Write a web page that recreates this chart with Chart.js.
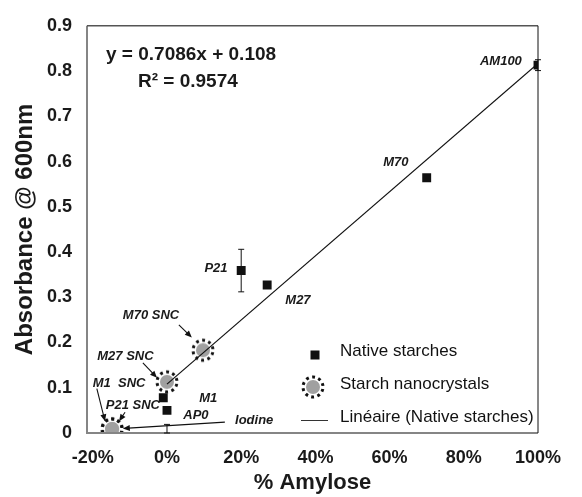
<!DOCTYPE html>
<html>
<head>
<meta charset="utf-8">
<script src="https://cdn.jsdelivr.net/npm/chart.js@4.4.1/dist/chart.umd.min.js"></script>
<style>
  html, body { margin: 0; padding: 0; background: #fff; }
  #wrap { width: 582px; height: 497px; }
</style>
</head>
<body>
<div id="wrap"><canvas id="chart" width="582" height="497"></canvas></div>
<script>
// Absorbance at 600nm against amylose content
const nativeNames = ['AM100', 'M70', 'P21', 'M27', 'M1', 'AP0'];
const nativeX = [1.0, 0.70, 0.20, 0.27, -0.01, 0.0];
const nativeY = [0.813, 0.564, 0.359, 0.327, 0.078, 0.050];
const nativeErr = [0.012, 0, 0.047, 0, 0, 0];

const sncNames = ['M70 SNC', 'M27 SNC', 'M1  SNC', 'P21 SNC'];
const sncX = [0.097, 0.0, -0.148, -0.148];
const sncY = [0.183, 0.113, 0.009, 0.009];

// iodine blank: only the error bar shows
const iodineX = [0];
const iodineY = [0.008];
const iodineErr = [0.011];

// linear fit of the native starches
const slope = 0.7086;
const intercept = 0.108;
const r2 = 0.9574;
const fitX = [0, 1.0];

const xTicks = [-0.2, 0, 0.2, 0.4, 0.6, 0.8, 1.0];
const yTicks = [0, 0.1, 0.2, 0.3, 0.4, 0.5, 0.6, 0.7, 0.8, 0.9];

// label text with its centre in data units
const labelText = ['AM100', 'M70', 'P21', 'M27', 'M70 SNC', 'M27 SNC', 'M1  SNC', 'P21 SNC', 'M1', 'AP0', 'Iodine'];
const labelX = [0.900, 0.617, 0.132, 0.353, -0.043, -0.112, -0.129, -0.092, 0.111, 0.078, 0.235];
const labelY = [0.822, 0.597, 0.364, 0.292, 0.259, 0.170, 0.109, 0.060, 0.076, 0.038, 0.028];

// callout arrows: tail -> head, data units
const arrowFrom = [[0.032, 0.239], [-0.065, 0.155], [-0.189, 0.098], [-0.113, 0.046], [0.156, 0.024]];
const arrowTo = [[0.067, 0.211], [-0.027, 0.122], [-0.167, 0.026], [-0.129, 0.026], [-0.119, 0.010]];

const FONT = '"Liberation Sans", Arial, sans-serif';
Chart.defaults.font.family = FONT;

function makeSncIcon() {
    const c = document.createElement('canvas');
    c.width = 26; c.height = 26;
    const g = c.getContext('2d');
    g.fillStyle = '#a0a0a0';
    g.beginPath(); g.arc(13, 13, 7, 0, Math.PI * 2); g.fill();
    const r = 10;
    const seg = 2 * Math.PI * r / 10;
    g.strokeStyle = '#111';
    g.lineWidth = 3;
    g.setLineDash([seg * 0.45, seg * 0.55]);
    g.beginPath(); g.arc(13, 13, r, 0.2, 0.2 + Math.PI * 2); g.stroke();
    return c;
}
const sncIcon = makeSncIcon();

function errorBar(ctx, px, yTop, yBot, cap) {
    ctx.beginPath();
    ctx.moveTo(px, yTop); ctx.lineTo(px, yBot);
    ctx.moveTo(px - cap, yTop); ctx.lineTo(px + cap, yTop);
    ctx.moveTo(px - cap, yBot); ctx.lineTo(px + cap, yBot);
    ctx.stroke();
}

function arrow(ctx, x1, y1, x2, y2) {
    const a = Math.atan2(y2 - y1, x2 - x1);
    const len = 7, half = 3;
    ctx.beginPath();
    ctx.moveTo(x1, y1);
    ctx.lineTo(x2 - Math.cos(a) * len * 0.8, y2 - Math.sin(a) * len * 0.8);
    ctx.stroke();
    ctx.beginPath();
    ctx.moveTo(x2, y2);
    ctx.lineTo(x2 - Math.cos(a) * len - Math.sin(a) * half, y2 - Math.sin(a) * len + Math.cos(a) * half);
    ctx.lineTo(x2 - Math.cos(a) * len + Math.sin(a) * half, y2 - Math.sin(a) * len - Math.cos(a) * half);
    ctx.closePath();
    ctx.fill();
}

const extras = {
    id: 'extras',
    afterDatasetsDraw(chart) {
        const { ctx, chartArea: a, scales: { x, y } } = chart;
        ctx.save();

        // frame
        ctx.lineWidth = 2;
        ctx.strokeStyle = '#858585';
        ctx.beginPath();
        ctx.moveTo(a.left, a.top); ctx.lineTo(a.left, a.bottom); ctx.lineTo(a.right, a.bottom);
        ctx.stroke();
        ctx.lineWidth = 1.5;
        ctx.strokeStyle = '#555';
        ctx.beginPath(); ctx.moveTo(a.left, a.top); ctx.lineTo(a.right, a.top); ctx.stroke();
        ctx.lineWidth = 1;
        ctx.strokeStyle = '#111';
        ctx.beginPath(); ctx.moveTo(a.right, a.top); ctx.lineTo(a.right, a.bottom); ctx.stroke();

        // error bars
        ctx.strokeStyle = '#111';
        ctx.lineWidth = 1;
        nativeX.forEach((v, i) => {
            if (!nativeErr[i]) return;
            errorBar(ctx, x.getPixelForValue(v), y.getPixelForValue(nativeY[i] + nativeErr[i]),
                y.getPixelForValue(nativeY[i] - nativeErr[i]), 3);
        });
        iodineX.forEach((v, i) => {
            const bot = Math.min(y.getPixelForValue(iodineY[i] - iodineErr[i]), a.bottom);
            errorBar(ctx, x.getPixelForValue(v), y.getPixelForValue(iodineY[i] + iodineErr[i]), bot, 3);
        });

        // callout arrows
        ctx.fillStyle = '#111';
        ctx.lineWidth = 1.1;
        arrowFrom.forEach((f, i) => {
            const t = arrowTo[i];
            arrow(ctx, x.getPixelForValue(f[0]), y.getPixelForValue(f[1]),
                x.getPixelForValue(t[0]), y.getPixelForValue(t[1]));
        });

        // point names
        ctx.font = 'italic bold 13px ' + FONT;
        ctx.fillStyle = '#1a1a1a';
        ctx.textAlign = 'center';
        ctx.textBaseline = 'middle';
        labelText.forEach((t, i) => {
            ctx.fillText(t, x.getPixelForValue(labelX[i]), y.getPixelForValue(labelY[i]));
        });

        // fit equation
        ctx.font = 'bold 19px ' + FONT;
        ctx.textAlign = 'left';
        ctx.textBaseline = 'alphabetic';
        ctx.fillText('y = ' + slope + 'x + ' + intercept, a.left + 19, a.top + 34);
        ctx.fillText('R\u00b2 = ' + r2, a.left + 51, a.top + 61);

        // legend
        const lx = 315;
        ctx.font = '17px ' + FONT;
        ctx.textBaseline = 'middle';
        ctx.fillStyle = '#111';
        ctx.fillRect(lx - 4.5, 350.5, 9, 9);
        ctx.fillText('Native starches', 340, 351);
        ctx.drawImage(sncIcon, lx - 15, 374);
        ctx.fillText('Starch nanocrystals', 340, 384);
        ctx.strokeStyle = '#333';
        ctx.lineWidth = 1;
        ctx.beginPath(); ctx.moveTo(301, 420.5); ctx.lineTo(328, 420.5); ctx.stroke();
        ctx.fillText('Lin\u00e9aire (Native starches)', 340, 417);

        ctx.restore();
    }
};

new Chart(document.getElementById('chart'), {
    type: 'scatter',
    data: {
        datasets: [
            {
                label: 'Lin\u00e9aire (Native starches)',
                type: 'line',
                data: fitX.map(v => ({ x: v, y: slope * v + intercept })),
                borderColor: '#111',
                borderWidth: 1.2,
                pointRadius: 0,
                fill: false,
                order: 0
            },
            {
                label: 'Native starches',
                data: nativeX.map((v, i) => ({ x: v, y: nativeY[i] })),
                pointStyle: 'rect',
                pointRadius: 6.3,
                backgroundColor: '#111',
                borderWidth: 0,
                order: 1
            },
            {
                label: 'Starch nanocrystals',
                data: sncX.map((v, i) => ({ x: v, y: sncY[i] })),
                pointStyle: sncIcon,
                pointRadius: 11,
                order: 2
            },
            {
                label: 'Iodine',
                data: iodineX.map((v, i) => ({ x: v, y: iodineY[i] })),
                pointRadius: 0,
                order: 3
            }
        ]
    },
    options: {
        responsive: false,
        animation: false,
        layout: { padding: { top: 20, right: 44, left: 0, bottom: 0 } },
        plugins: { legend: { display: false }, tooltip: { enabled: false } },
        scales: {
            x: {
                type: 'linear',
                min: -0.2156,
                max: 1.0,
                afterBuildTicks: s => { s.ticks = xTicks.map(v => ({ value: v })); },
                afterFit: s => { s.height = 64; },
                grid: { display: false, drawTicks: false },
                border: { display: false },
                ticks: {
                    color: '#1a1a1a',
                    padding: 14,
                    font: { size: 18, weight: 'bold' },
                    callback: v => Math.round(v * 100) + '%'
                },
                title: {
                    display: true,
                    text: '% Amylose',
                    color: '#1a1a1a',
                    font: { size: 22, weight: 'bold' },
                    padding: { top: 0, bottom: 1 }
                }
            },
            y: {
                min: 0,
                max: 0.9,
                afterBuildTicks: s => { s.ticks = yTicks.map(v => ({ value: v })); },
                afterFit: s => { s.width = 87; },
                grid: { display: false, drawTicks: false },
                border: { display: false },
                ticks: {
                    color: '#1a1a1a',
                    padding: 15,
                    font: { size: 18, weight: 'bold' },
                    callback: v => v === 0 ? '0' : v.toFixed(1)
                },
                title: {
                    display: true,
                    text: 'Absorbance @ 600nm',
                    color: '#1a1a1a',
                    font: { size: 24, weight: 'bold' },
                    padding: { top: 11, bottom: 0 }
                }
            }
        }
    },
    plugins: [extras]
});
</script>
</body>
</html>
